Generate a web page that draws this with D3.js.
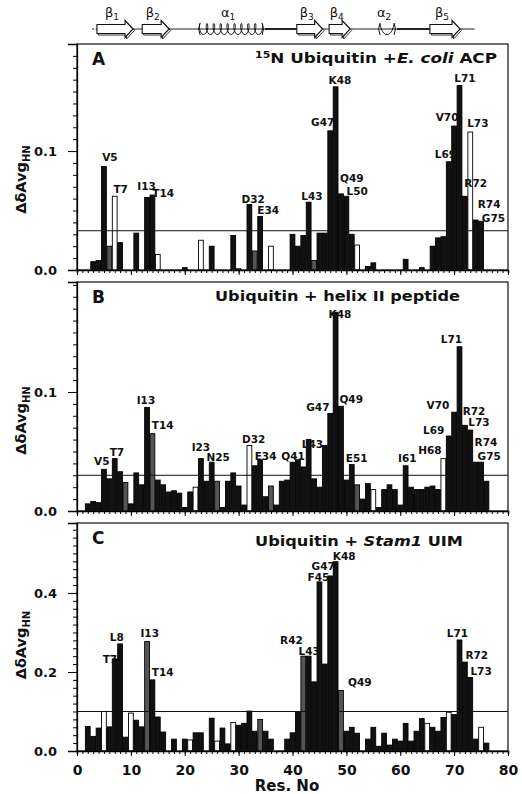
<!DOCTYPE html>
<html>
<head>
<meta charset="utf-8">
<script src="https://cdn.jsdelivr.net/npm/d3@7"></script>
<style>
  body { margin: 0; background: #fff; }
  svg { display: block; }
  text { font-family: "DejaVu Sans", "Liberation Sans", sans-serif; font-weight: bold; fill: #111; }
</style>
</head>
<body>
<svg id="chart" width="522" height="794"></svg>
<script>
// residues 1..76 of ubiquitin
var residues = d3.range(1, 77);

// ΔδAvg(HN) per residue
var shiftA = [0, 0, 0.007, 0.008, 0.087, 0.020, 0.062, 0.023, 0, 0,
              0.031, 0, 0.061, 0.063, 0.013, 0, 0, 0, 0, 0.002,
              0, 0, 0.025, 0, 0.020, 0, 0, 0, 0.029, 0.001,
              0, 0.055, 0.016, 0.045, 0, 0.020, 0, 0, 0, 0.030,
              0.020, 0.029, 0.057, 0.008, 0.031, 0.031, 0.117, 0.154, 0.064, 0.062,
              0.030, 0.021, 0, 0.003, 0.006, 0, 0, 0, 0, 0,
              0.009, 0, 0, 0.002, 0, 0.020, 0.027, 0.028, 0.091, 0.121,
              0.155, 0.062, 0.116, 0.042, 0.041, 0];
var shiftB = [0, 0.006, 0.008, 0.007, 0.035, 0.027, 0.044, 0.033, 0.024, 0.006,
              0.032, 0.022, 0.087, 0.065, 0.026, 0.022, 0.016, 0.017, 0.015, 0.003,
              0.016, 0.020, 0.044, 0.025, 0.041, 0.025, 0.003, 0.025, 0.032, 0.021,
              0.005, 0.055, 0.038, 0.043, 0.012, 0.021, 0.005, 0.025, 0.026, 0.041,
              0.043, 0.037, 0.060, 0.027, 0.020, 0.055, 0.082, 0.167, 0.088, 0.026,
              0.039, 0.022, 0.010, 0.023, 0.018, 0.003, 0.018, 0.022, 0.018, 0.005,
              0.038, 0.020, 0.018, 0.018, 0.020, 0.021, 0.018, 0.044, 0.063, 0.083,
              0.138, 0.072, 0.068, 0.041, 0.041, 0.025];
var shiftC = [0, 0.062, 0.037, 0.058, 0.100, 0.061, 0.233, 0.271, 0.035, 0.096,
              0.078, 0.061, 0.277, 0.180, 0.086, 0.048, 0, 0.030, 0, 0.030,
              0.028, 0.046, 0.046, 0, 0.083, 0.025, 0.058, 0.018, 0.072, 0.065,
              0.070, 0.101, 0.050, 0.080, 0.050, 0.030, 0, 0, 0.030, 0.046,
              0.100, 0.240, 0.240, 0.175, 0.428, 0.220, 0.443, 0.479, 0.153, 0.050,
              0.060, 0.045, 0, 0.030, 0.060, 0.012, 0.045, 0.015, 0.030, 0.025,
              0.070, 0.025, 0.050, 0.082, 0.070, 0.060, 0.050, 0.085, 0.098, 0.092,
              0.281, 0.225, 0.186, 0.030, 0.060, 0.020];

// residues drawn as open or grey bars
var openA = [7, 15, 23, 36, 52, 73], greyA = [6, 33, 44];
var openB = [22, 32, 55, 68], greyB = [9, 14, 26, 36, 52];
var openC = [5, 10, 21, 26, 29, 65, 69, 75], greyC = [13, 34, 42, 49];

// significance cut-off lines
var cutoffs = [0.033, 0.030, 0.10];

// residue labels: name, x (residue units), y (value units)
var labelsA = [["V5", 6.1, 0.092], ["T7", 8.1, 0.065], ["I13", 12.9, 0.067], ["T14", 16.0, 0.061],
               ["D32", 32.7, 0.056], ["E34", 35.5, 0.047], ["L43", 43.6, 0.059], ["G47", 45.6, 0.121],
               ["K48", 48.8, 0.156], ["Q49", 51.0, 0.074], ["L50", 52.0, 0.063], ["L69", 68.4, 0.094],
               ["V70", 68.7, 0.125], ["L71", 72.0, 0.158], ["L73", 74.4, 0.120], ["R72", 74.0, 0.070],
               ["R74", 76.5, 0.052], ["G75", 77.3, 0.040]];
var labelsB = [["V5", 4.6, 0.039], ["T7", 7.4, 0.046], ["I13", 12.8, 0.090], ["T14", 15.9, 0.069],
               ["I23", 23.0, 0.050], ["N25", 26.2, 0.042], ["D32", 32.8, 0.057], ["E34", 35.0, 0.043],
               ["Q41", 40.1, 0.043], ["L43", 43.7, 0.053], ["G47", 44.7, 0.084], ["K48", 48.8, 0.162],
               ["Q49", 50.9, 0.091], ["E51", 51.9, 0.041], ["I61", 61.3, 0.041], ["H68", 65.5, 0.048],
               ["L69", 66.2, 0.065], ["V70", 67.0, 0.086], ["L71", 69.5, 0.141], ["R72", 73.7, 0.081],
               ["L73", 74.6, 0.071], ["R74", 75.9, 0.055], ["G75", 76.5, 0.043]];
var labelsC = [["T7", 6.1, 0.223], ["L8", 7.4, 0.279], ["I13", 13.5, 0.288], ["T14", 15.9, 0.190],
               ["R42", 39.8, 0.272], ["L43", 43.1, 0.242], ["F45", 44.8, 0.429], ["G47", 45.7, 0.458],
               ["K48", 49.6, 0.484], ["Q49", 52.5, 0.165], ["L71", 70.6, 0.288], ["R72", 74.2, 0.232],
               ["L73", 75.0, 0.192]];

// y tick labels, x tick labels
var yTicksAB = [0, 0.1], yTicksC = [0, 0.2, 0.4];
var xTicks = d3.range(0, 81, 10);

// secondary structure along the sequence (residue units)
var strands = [["β1", 3.7, 10.4], ["β2", 12.1, 17.1], ["β3", 40.8, 45.6], ["β4", 46.8, 50.7], ["β5", 65.5, 71.1]];
var helices = [["α1", 22.3, 34.9, 9], ["α2", 55.7, 59.4, 1]];

var svg = d3.select("#chart");
var x = d3.scaleLinear().domain([0, 80]).range([77, 508]);
var barW = x(1) - x(0);

var panels = [
  {key: "A", values: shiftA, open: openA, grey: greyA, labels: labelsA, cutoff: cutoffs[0],
   top: 44, zero: 270, max: 0.19, major: yTicksAB, minor: 0.01, yLabel: 0.076},
  {key: "B", values: shiftB, open: openB, grey: greyB, labels: labelsB, cutoff: cutoffs[1],
   top: 282, zero: 511, max: 0.1924, major: yTicksAB, minor: 0.01, yLabel: 0.076},
  {key: "C", values: shiftC, open: openC, grey: greyC, labels: labelsC, cutoff: cutoffs[2],
   top: 523, zero: 751, max: 0.577, major: yTicksC, minor: 0.02, yLabel: 0.268}
];

panels.forEach(function(p, pi) {
    var y = d3.scaleLinear().domain([0, p.max]).range([p.zero, p.top]);
    var g = svg.append("g");

    // bars
    g.selectAll("rect.bar")
        .data(residues.filter(function(r) { return p.values[r - 1] > 0; }))
        .enter().append("rect")
        .attr("class", "bar")
        .attr("x", function(r) { return x(r) - barW / 2 + 0.3; })
        .attr("width", barW - 0.6)
        .attr("y", function(r) { return y(p.values[r - 1]); })
        .attr("height", function(r) { return p.zero - y(p.values[r - 1]); })
        .attr("fill", function(r) {
            if (p.open.indexOf(r) >= 0) return "#fff";
            if (p.grey.indexOf(r) >= 0) return "#555";
            return "#111";
        })
        .attr("stroke", "#000")
        .attr("stroke-width", 0.9);

    // cut-off line
    g.append("line")
        .attr("x1", x(0)).attr("x2", x(80))
        .attr("y1", y(p.cutoff)).attr("y2", y(p.cutoff))
        .attr("stroke", "#111").attr("stroke-width", 1);

    // frame
    g.append("rect")
        .attr("x", x(0)).attr("y", p.top)
        .attr("width", x(80) - x(0)).attr("height", p.zero - p.top)
        .attr("fill", "none").attr("stroke", "#222").attr("stroke-width", 1.3);

    // y axis: minor then major ticks
    g.append("g")
        .attr("transform", "translate(" + x(0) + ",0)")
        .call(d3.axisLeft(y).tickValues(d3.range(0, p.max, p.minor)).tickSize(4).tickFormat(""))
        .call(function(a) { a.select(".domain").remove(); });
    var ya = g.append("g")
        .attr("transform", "translate(" + x(0) + ",0)")
        .call(d3.axisLeft(y).tickValues(p.major).tickSize(9).tickPadding(11)
              .tickFormat(d3.format(".1f")));
    ya.select(".domain").attr("stroke-width", 1.3);
    ya.selectAll("text").style("font-size", "13px").attr("fill", "#111");

    // x axis
    g.append("g")
        .attr("transform", "translate(0," + p.zero + ")")
        .call(d3.axisBottom(x).tickValues(d3.range(0, 81, 1)).tickSize(3).tickFormat(""))
        .call(function(a) { a.select(".domain").attr("stroke-width", 1.6); });
    var xa = g.append("g")
        .attr("transform", "translate(0," + p.zero + ")")
        .call(d3.axisBottom(x).tickValues(xTicks).tickSize(5).tickPadding(9)
              .tickFormat(pi === 2 ? d3.format("d") : ""));
    xa.select(".domain").remove();
    xa.selectAll("text").style("font-size", "14px").attr("fill", "#111");

    // y label
    var yl = g.append("text")
        .attr("transform", "translate(26," + y(p.yLabel) + ") rotate(-90)")
        .attr("text-anchor", "middle")
        .style("font-size", "14.5px");
    yl.append("tspan").text("ΔδAvg");
    yl.append("tspan").attr("dy", 4).style("font-size", "10px").text("HN");

    // panel letter
    g.append("text").attr("x", 92).attr("y", p.top + 21)
        .style("font-size", "17px").text(p.key);

    // residue labels
    g.selectAll("text.res")
        .data(p.labels)
        .enter().append("text")
        .attr("class", "res")
        .attr("x", function(d) { return x(d[1]); })
        .attr("y", function(d) { return y(d[2]); })
        .attr("text-anchor", "middle")
        .style("font-size", "10.5px")
        .text(function(d) { return d[0]; });
});

// panel titles (stretched to the width they take in the figure)
var tA = svg.append("text").attr("x", 255).attr("y", 63)
    .attr("textLength", 242).attr("lengthAdjust", "spacingAndGlyphs").style("font-size", "14.5px");
tA.append("tspan").attr("dy", -5).style("font-size", "9.5px").text("15");
tA.append("tspan").attr("dy", 5).text("N Ubiquitin +");
tA.append("tspan").style("font-style", "italic").text("E. coli");
tA.append("tspan").text(" ACP");

svg.append("text").attr("x", 215).attr("y", 301)
    .attr("textLength", 245).attr("lengthAdjust", "spacingAndGlyphs")
    .style("font-size", "14.5px").text("Ubiquitin + helix II peptide");

var tC = svg.append("text").attr("x", 255).attr("y", 546)
    .attr("textLength", 208).attr("lengthAdjust", "spacingAndGlyphs").style("font-size", "14.5px");
tC.append("tspan").text("Ubiquitin + ");
tC.append("tspan").style("font-style", "italic").text("Stam1");
tC.append("tspan").text(" UIM");

// axis title
svg.append("text").attr("x", 287).attr("y", 791).attr("text-anchor", "middle")
    .style("font-size", "15px").text("Res. No");

// secondary structure diagram
var ss = svg.append("g");
var cy = 29;
ss.append("line").attr("x1", x(2.8)).attr("x2", x(3.7)).attr("y1", cy).attr("y2", cy)
    .attr("stroke", "#222").attr("stroke-dasharray", "2,1.5");
ss.append("line").attr("x1", x(10.4)).attr("x2", x(73.8)).attr("y1", cy).attr("y2", cy)
    .attr("stroke", "#222").attr("stroke-width", 1);
ss.append("line").attr("x1", x(34.9)).attr("x2", x(40.8)).attr("y1", cy).attr("y2", cy)
    .attr("stroke", "#222").attr("stroke-width", 2);
ss.append("line").attr("x1", x(59.4)).attr("x2", x(66)).attr("y1", cy).attr("y2", cy)
    .attr("stroke", "#222").attr("stroke-width", 1.8);

function arrowPath(x0, x1, off) {
    var hl = Math.min(8, (x1 - x0) * 0.4), bh = 4.5, hh = 8.5;
    var pts = [[x0, cy - bh], [x1 - hl, cy - bh], [x1 - hl, cy - hh], [x1, cy], [x1 - hl, cy + hh],
               [x1 - hl, cy + bh], [x0, cy + bh]];
    return "M" + pts.map(function(q) { return (q[0] + off) + "," + (q[1] + off); }).join("L") + "Z";
}
strands.forEach(function(s) {
    var x0 = x(s[1]), x1 = x(s[2]);
    ss.append("path").attr("d", arrowPath(x0, x1, 1.5))
        .attr("fill", "#fff").attr("stroke", "#333").attr("stroke-width", 1);
    ss.append("path").attr("d", arrowPath(x0, x1, 0))
        .attr("fill", "#fff").attr("stroke", "#111").attr("stroke-width", 1.1);
    var t = ss.append("text").attr("x", (x0 + x1) / 2 - 3).attr("y", 17)
        .attr("text-anchor", "middle").style("font-size", "13px").style("font-weight", "normal");
    t.append("tspan").text(s[0].charAt(0));
    t.append("tspan").attr("dy", 3).style("font-size", "9px").text(s[0].slice(1));
});

helices.forEach(function(h) {
    var x0 = x(h[1]), x1 = x(h[2]), n = h[3];
    var pts = [], steps = n * 24;
    for (var i = 0; i <= steps; i++) {
        var t = i / steps * n * 2 * Math.PI;
        var px = x0 + 3 + (x1 - x0 - 6) * i / steps - 2.2 * Math.sin(t);
        pts.push([px, cy - 5.5 * Math.cos(t)]);
    }
    ss.append("path").attr("d", d3.line()(pts))
        .attr("fill", "none").attr("stroke", "#111").attr("stroke-width", 1);
    ss.append("path").attr("d", "M" + (x0 + 3) + "," + (cy - 6) + "Q" + x0 + "," + cy + " " + (x0 + 3) + "," + (cy + 6))
        .attr("fill", "none").attr("stroke", "#111");
    ss.append("path").attr("d", "M" + (x1 - 3) + "," + (cy - 6) + "Q" + x1 + "," + cy + " " + (x1 - 3) + "," + (cy + 6))
        .attr("fill", "none").attr("stroke", "#111");
    var t = ss.append("text").attr("x", (x0 + x1) / 2 - 3).attr("y", 17)
        .attr("text-anchor", "middle").style("font-size", "13px").style("font-weight", "normal");
    t.append("tspan").text(h[0].charAt(0));
    t.append("tspan").attr("dy", 3).style("font-size", "9px").text(h[0].slice(1));
});
</script>
</body>
</html>
